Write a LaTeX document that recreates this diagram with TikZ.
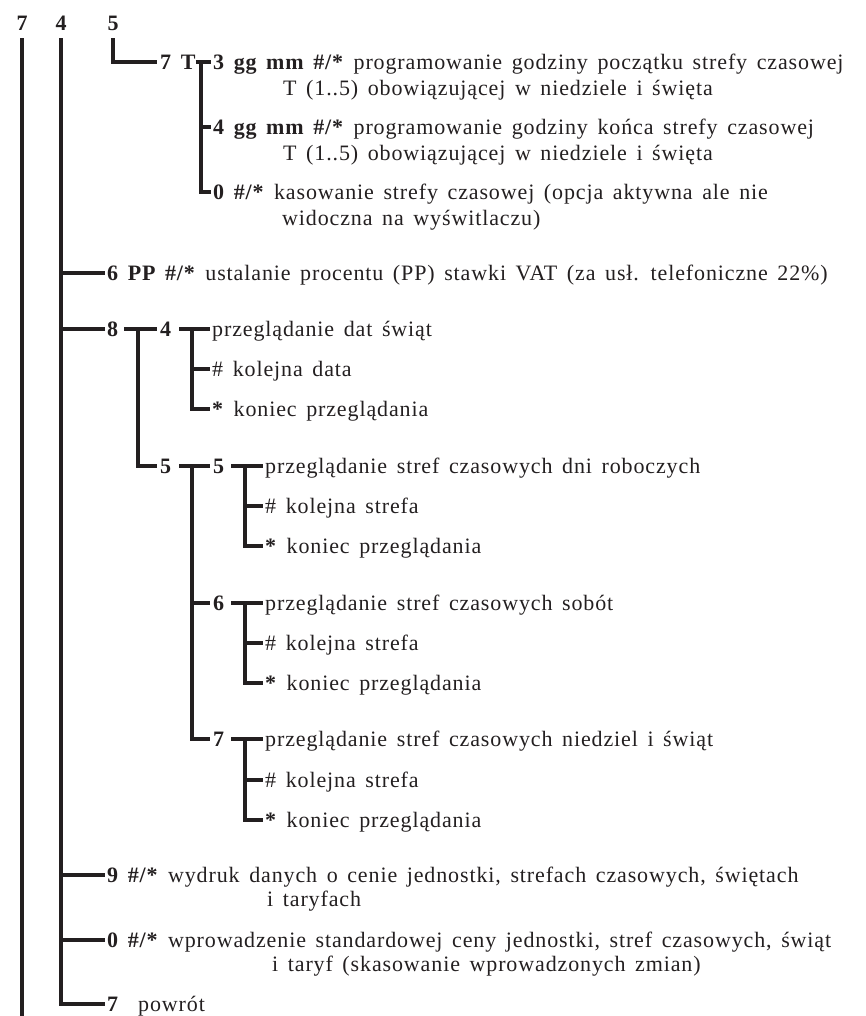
\documentclass[tikz,border=0pt]{standalone}
\usepackage{fontspec}
\setmainfont{Liberation Serif}[LetterSpace=4, WordSpace=1.5]
\usetikzlibrary{positioning}
\definecolor{menuInk}{HTML}{231F20}

\begin{document}
\begin{tikzpicture}[x=1pt, y=-1pt,
  bar/.style={line width=3.6pt, draw=menuInk},
  key/.style={inner sep=0pt, text=menuInk, font=\fontsize{22}{26}\selectfont\bfseries,
    text height=14.5pt, text depth=0pt},
  entry/.style={inner xsep=2pt, inner ysep=0pt, anchor=west, text=menuInk,
    font=\fontsize{22}{26}\selectfont, text height=14.5pt, text depth=0pt}]
  \useasboundingbox (0,0) rectangle (866,1016);
  \node[key] (k7) at (22,23) {7};
  \node[key] (k4) at (61,23) {4};
  \node[key] (k5) at (113,23) {5};
  \coordinate (bot) at (22,1016);

  \node[key, anchor=west] (k7T) at (160,62) {7 T};
  \node[entry] (a3) at (211,62) {\textbf{3 gg mm \#/*} programowanie godziny początku strefy czasowej};
  \node[entry] (a3c) at (281,88) {T (1..5) obowiązującej w niedziele i święta};
  \node[entry] (a4) at (211,127) {\textbf{4 gg mm \#/*} programowanie godziny końca strefy czasowej};
  \node[entry] (a4c) at (281,153) {T (1..5) obowiązującej w niedziele i święta};
  \node[entry] (a0) at (211,192) {\textbf{0 \#/*} kasowanie strefy czasowej (opcja aktywna ale nie};
  \node[entry] (a0c) at (280,218) {widoczna na wyświtlaczu)};

  \node[entry] (n6) at (105,273) {\textbf{6 PP \#/*} ustalanie procentu (PP) stawki VAT (za usł. telefoniczne 22\%)};

  \node[key, anchor=west] (k8) at (107,329) {8};
  \node[key, anchor=west] (k84) at (160,329) {4};
  \node[entry] (b1) at (210,329) {przeglądanie dat świąt};
  \node[entry] (b2) at (210,369) {\# kolejna data};
  \node[entry] (b3) at (210,409) {\textbf{*} koniec przeglądania};

  \node[key, anchor=west] (k85) at (160,466) {5};
  \node[key, anchor=west] (k855) at (213,466) {5};
  \node[entry] (c1) at (263,466) {przeglądanie stref czasowych dni roboczych};
  \node[entry] (c2) at (263,506) {\# kolejna strefa};
  \node[entry] (c3) at (263,546) {\textbf{*} koniec przeglądania};
  \node[key, anchor=west] (k856) at (213,603) {6};
  \node[entry] (d1) at (263,603) {przeglądanie stref czasowych sobót};
  \node[entry] (d2) at (263,643) {\# kolejna strefa};
  \node[entry] (d3) at (263,683) {\textbf{*} koniec przeglądania};
  \node[key, anchor=west] (k857) at (213,739) {7};
  \node[entry] (e1) at (263,739) {przeglądanie stref czasowych niedziel i świąt};
  \node[entry] (e2) at (263,780) {\# kolejna strefa};
  \node[entry] (e3) at (263,820) {\textbf{*} koniec przeglądania};

  \node[entry] (n9) at (105,875) {\textbf{9 \#/*} wydruk danych o cenie jednostki, strefach czasowych, świętach};
  \node[entry] (n9c) at (265,899) {i taryfach};
  \node[entry] (n0) at (105,940) {\textbf{0 \#/*} wprowadzenie standardowej ceny jednostki, stref czasowych, świąt};
  \node[entry] (n0c) at (270,964) {i taryf (skasowanie wprowadzonych zmian)};
  \node[entry] (n7) at (105,1004) {\textbf{7}\ \ powrót};

  \coordinate (v7T) at (201,62);
  \coordinate (v8) at (138,329);
  \coordinate (v84) at (192,329);
  \coordinate (v85) at (192,466);
  \coordinate (v855) at (245,466);
  \coordinate (v856) at (245,603);
  \coordinate (v857) at (245,739);

  \draw[bar] ([yshift=-8pt]k7.south) -- (bot);
  \draw[bar] ([yshift=-8pt]k4.south) |- (n7.west);
  \draw[bar] ([yshift=-8pt]k5.south) |- ([xshift=-3pt]k7T.west);
  \draw[bar] (k4 |- n6.west) -- (n6.west);
  \draw[bar] (k4 |- k8.west) -- ([xshift=-2pt]k8.west);
  \draw[bar] (k4 |- n9.west) -- (n9.west);
  \draw[bar] (k4 |- n0.west) -- (n0.west);

  \draw[bar] (k7T.east) -- (a3.west);
  \draw[bar] (v7T) |- (a0.west);
  \draw[bar] (v7T |- a4.west) -- (a4.west);

  \draw[bar] ([xshift=6pt]k8.east) -- ([xshift=-3pt]k84.west);
  \draw[bar] (v8) |- ([xshift=-3pt]k85.west);
  \draw[bar] ([xshift=8pt]k84.east) -- (b1.west);
  \draw[bar] (v84) |- (b3.west);
  \draw[bar] (v84 |- b2.west) -- (b2.west);

  \draw[bar] ([xshift=8pt]k85.east) -- ([xshift=-3pt]k855.west);
  \draw[bar] (v85) |- ([xshift=-3pt]k857.west);
  \draw[bar] (v85 |- k856.west) -- ([xshift=-3pt]k856.west);

  \draw[bar] ([xshift=7pt]k855.east) -- (c1.west);
  \draw[bar] (v855) |- (c3.west);
  \draw[bar] (v855 |- c2.west) -- (c2.west);
  \draw[bar] ([xshift=7pt]k856.east) -- (d1.west);
  \draw[bar] (v856) |- (d3.west);
  \draw[bar] (v856 |- d2.west) -- (d2.west);
  \draw[bar] ([xshift=7pt]k857.east) -- (e1.west);
  \draw[bar] (v857) |- (e3.west);
  \draw[bar] (v857 |- e2.west) -- (e2.west);
\end{tikzpicture}
\end{document}
